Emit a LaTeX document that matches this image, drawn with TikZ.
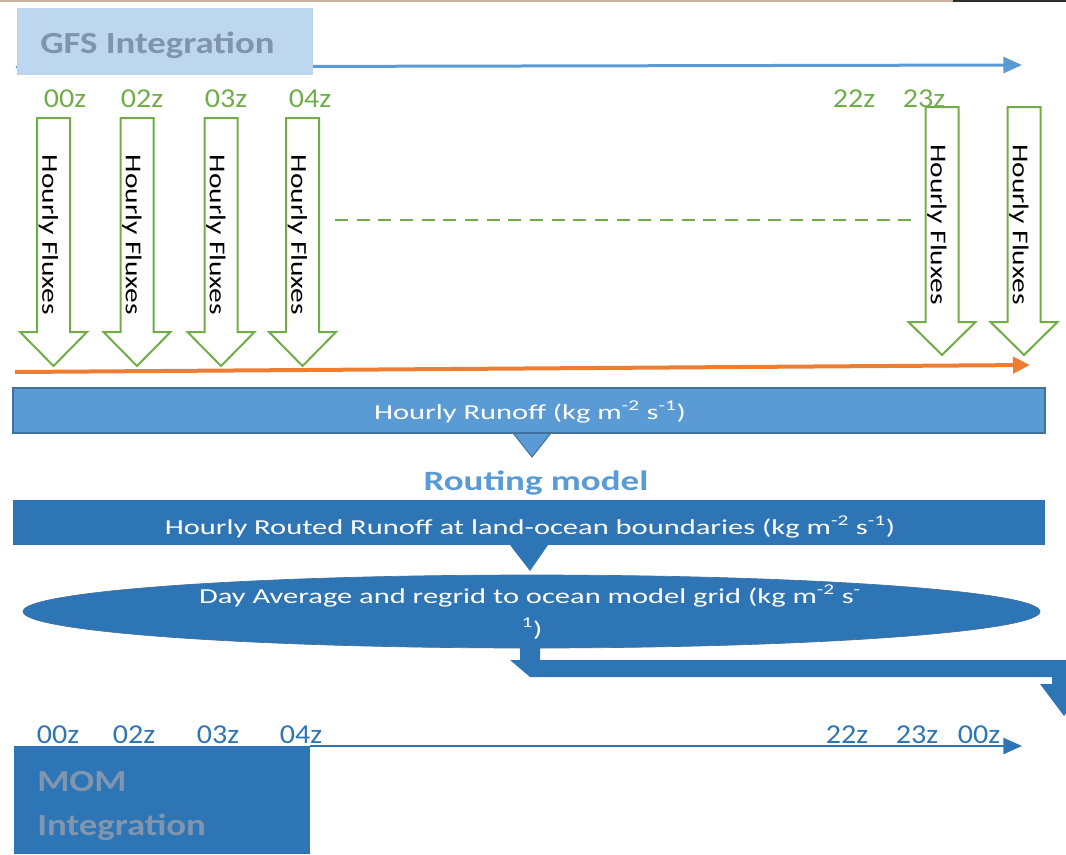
\documentclass[tikz,border=0pt]{standalone}
\usepackage{fontspec}
\setmainfont{Carlito}
\newfontfamily\bodyfont[FakeStretch=1.43]{Carlito}
\newfontfamily\fluxfont[FakeStretch=1.3]{Carlito}
\newfontfamily\labelfont[FakeStretch=1.1]{Carlito}
\newfontfamily\headfont[FakeStretch=1.2]{Carlito}
\newfontfamily\routefont[FakeStretch=1.32]{Carlito}
\usetikzlibrary{arrows.meta,shapes.geometric}

\definecolor{gfsfill}{RGB}{189,215,238}
\definecolor{gfstext}{RGB}{128,148,173}
\definecolor{midblue}{RGB}{91,155,213}
\definecolor{deepblue}{RGB}{46,117,182}
\definecolor{edgeblue}{RGB}{65,113,156}
\definecolor{leafgreen}{RGB}{112,173,71}
\definecolor{flame}{RGB}{237,125,49}
\definecolor{momtext}{RGB}{127,150,174}
\definecolor{rimtan}{RGB}{205,176,160}
\definecolor{rimdark}{RGB}{45,45,45}

\tikzset{
  fluxline/.style={draw=leafgreen, line width=1.5pt, fill=white, line join=miter},
  fluxtext/.style={font=\fluxfont\fontsize{17pt}{20pt}\selectfont, text=black, rotate=-90, inner sep=0pt},
  gtick/.style={font=\labelfont\fontsize{20.5pt}{24pt}\selectfont, text=leafgreen, inner sep=0pt, anchor=base},
  btick/.style={font=\labelfont\fontsize{20.5pt}{24pt}\selectfont, text=deepblue, inner sep=0pt, anchor=base},
  bandtext/.style={font=\bodyfont\fontsize{16pt}{19pt}\selectfont, text=white, inner sep=0pt, anchor=base},
  headtext/.style={font=\headfont\bfseries\fontsize{23pt}{27pt}\selectfont, inner sep=0pt, anchor=base west},
  band/.style={rectangle, inner sep=0pt, outer sep=0pt, anchor=north west},
  timeline/.style={line width=2.25pt, -{Triangle[length=14pt, width=12pt]}},
}

% hollow flux arrow: name, centre x, top, start of head, tip
\newcommand\fluxarrow[5]{%
  \draw[fluxline] (#2-16.5,#3) -- (#2+16.5,#3) -- (#2+16.5,#4) -- (#2+33.5,#4)
    -- (#2,#5) -- (#2-33.5,#4) -- (#2-16.5,#4) -- cycle;
  \node[fluxtext] (#1) at (#2-5,{(#3+#4)/2+10}) {Hourly Fluxes};
}

\begin{document}
\begin{tikzpicture}[x=0.75pt,y=-0.75pt]
\useasboundingbox (0,0) rectangle (1066,854);
\clip (0,0) rectangle (1066,854);

% thin rim along the top edge
\fill[rimtan] (0,0) rectangle (953,2);
\fill[rimdark] (953,0) rectangle (1066,2);

% GFS timeline
\coordinate (gfsstart) at (17,67);
\coordinate (gfsend) at (1022,65);
\draw[timeline, midblue, line cap=round] (gfsstart) -- (gfsend);
\node[band, fill=gfsfill, minimum width=222pt, minimum height=50.25pt] (gfs) at (17,8) {};
\node[headtext, text=gfstext] (gfslabel) at (40,53) {GFS Integration};

% hourly flux arrows
\fluxarrow{f1}{53.5}{118}{332}{366}
\fluxarrow{f2}{137}{118}{332}{366}
\fluxarrow{f3}{221}{118}{332}{366}
\fluxarrow{f4}{302.5}{118}{332}{366}
\fluxarrow{f5}{942}{107}{322}{355}
\fluxarrow{f6}{1024}{107}{322}{355}

% GFS hour labels
\node[gtick] (g00) at (65,107) {00z};
\node[gtick] (g02) at (142,107) {02z};
\node[gtick] (g03) at (226,107) {03z};
\node[gtick] (g04) at (310,107) {04z};
\node[gtick] (g22) at (854,107) {22z};
\node[gtick] (g23) at (924,107) {23z};

% skipped hours
\coordinate (gapstart) at (335,220);
\coordinate (gapend) at (912,220);
\draw[leafgreen, line width=1.5pt, dash pattern=on 9.75pt off 6.5pt] (gapstart) -- (gapend);

% land model timeline
\coordinate (lndstart) at (15,372);
\coordinate (lndend) at (1030,365);
\draw[flame, line width=3pt, -{Triangle[length=12.75pt, width=12pt]}] (lndstart) -- (lndend);

% hourly runoff
\path[fill=midblue, draw=edgeblue, line width=0.75pt]
  (525,433) -- (541,433) -- (551,433) -- (532,457) -- (513,433) -- cycle;
\node[band, fill=midblue, draw=edgeblue, line width=1.1pt, minimum width=774pt, minimum height=33.75pt] (runoff) at (13,388) {};
\node[bandtext] (runofftext) at (530,419) {Hourly Runoff (kg m\textsuperscript{-2} s\textsuperscript{-1})};

\node[font=\routefont\bfseries\fontsize{21pt}{25pt}\selectfont, text=midblue, inner sep=0pt, anchor=base] (routing) at (536,490) {Routing model};

% routed runoff
\path[fill=deepblue] (510,545) -- (548,545) -- (530,571) -- cycle;
\node[band, fill=deepblue, minimum width=774pt, minimum height=33.75pt] (routed) at (13,500) {};
\node[bandtext] (routedtext) at (530,534) {Hourly Routed Runoff at land-ocean boundaries (kg m\textsuperscript{-2} s\textsuperscript{-1})};

% hand-over to the ocean model
\path[fill=deepblue] (520,640) -- (540,640) -- (540,660) -- (1076,660) -- (1076,684)
  -- (1088,684) -- (1064,716) -- (1040,684) -- (1052,684) -- (1052,677)
  -- (530,677) -- (510,660) -- (520,660) -- cycle;

% daily average
\node[ellipse, fill=deepblue, draw=edgeblue, line width=0.5pt, inner sep=0pt,
  minimum width=762.75pt, minimum height=54.75pt] (avg) at (531.5,611.5) {};
\node[bandtext] (avgtext) at (530,603) {Day Average and regrid to ocean model grid (kg m\textsuperscript{-2} s\textsuperscript{-}};
\node[bandtext] (avgtext2) at (532,636) {\textsuperscript{1})};

% MOM timeline
\node[band, fill=deepblue, minimum width=222pt, minimum height=81pt] (mom) at (14,746) {};
\coordinate (momend) at (1022,746);
\draw[deepblue, line width=1.9pt, -{Triangle[length=14pt, width=12pt]}] (mom.north east) -- (momend);
\node[headtext, text=momtext] (momlabel) at (37,791) {MOM};
\node[headtext, text=momtext] (momlabel2) at (37,835) {Integration};

% MOM hour labels
\node[btick] (b00) at (58,743) {00z};
\node[btick] (b02) at (134,743) {02z};
\node[btick] (b03) at (218,743) {03z};
\node[btick] (b04) at (301,743) {04z};
\node[btick] (b22) at (847,743) {22z};
\node[btick] (b23) at (917,743) {23z};
\node[btick] (b00b) at (979,743) {00z};
\end{tikzpicture}
\end{document}
